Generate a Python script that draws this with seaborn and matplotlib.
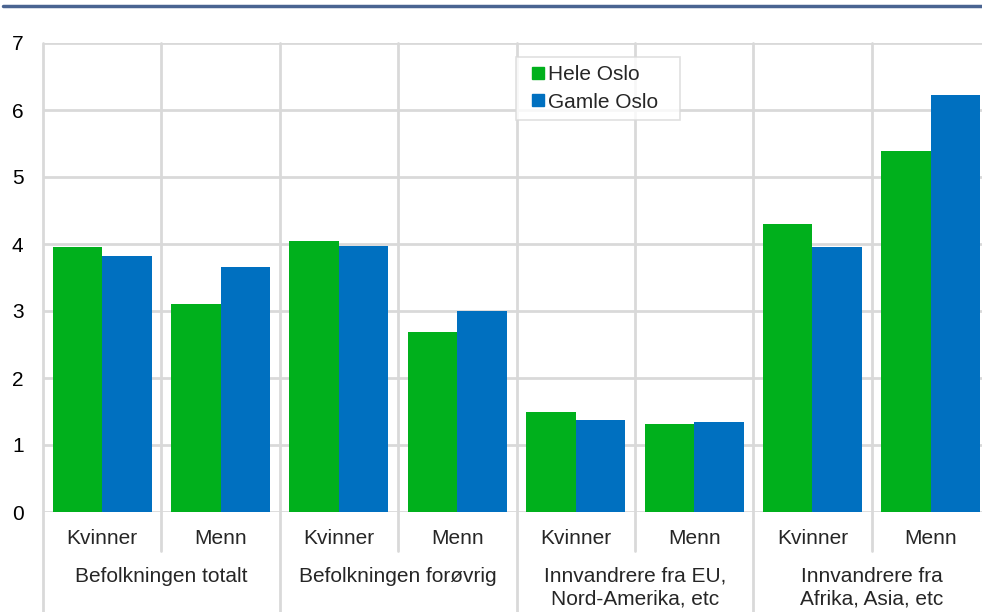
import numpy as np
import pandas as pd
import matplotlib
matplotlib.use("Agg")
import matplotlib.pyplot as plt
from matplotlib.lines import Line2D
import matplotlib.transforms as mtransforms
import seaborn as sns

#------data--------------------
groups = ["Befolkningen totalt", "Befolkningen forøvrig",
          "Innvandrere fra EU,\nNord-Amerika, etc", "Innvandrere fra\nAfrika, Asia, etc"]
sexes = ["Kvinner", "Menn"]
hele_oslo = [3.96, 3.11, 4.04, 2.68, 1.49, 1.32, 4.30, 5.39]
gamle_oslo = [3.82, 3.65, 3.97, 3.00, 1.37, 1.35, 3.95, 6.22]
series = ["Hele Oslo", "Gamle Oslo"]
colors = ["#00b01c", "#0070c0"]

n = len(hele_oslo)
df = pd.DataFrame({
    "idx": list(range(n)) * 2,
    "verdi": hele_oslo + gamle_oslo,
    "serie": [series[0]] * n + [series[1]] * n,
})

sns.set_style("white")
plt.rcParams['font.family'] = ['Liberation Sans', 'DejaVu Sans']

fig = plt.figure(figsize=(9.82, 6.12), dpi=100)
ax = fig.add_axes([43/982, 100/612, 947/982, 469/612])

sns.barplot(data=df, x="idx", y="verdi", hue="serie", palette=colors,
            width=0.836, gap=0, saturation=1, legend=False, ax=ax, zorder=3,
            linewidth=0, edgecolor="none")

ax.set_xlim(-0.5, n - 0.5)
ax.set_ylim(0, 7)
ax.set_yticks(range(8))
ax.set_xticks([])
ax.set_xlabel("")
ax.set_ylabel("")
for s in ax.spines.values():
    s.set_visible(False)
ax.yaxis.grid(True, color="#d9d9d9", lw=2, zorder=0)
ax.set_axisbelow(True)
ax.tick_params(axis="y", length=0, pad=14, labelsize=15, labelcolor="black")

# vertical gridlines, down into label area
gap_px = 469
for i in range(n + 1):
    x = i - 0.5
    if i % 2 == 0:
        ymin = -100 / gap_px
    else:
        ymin = -39 / gap_px
    ax.axvline(x, ymin=ymin, ymax=1, color="#d9d9d9", lw=2, clip_on=False, zorder=1)

trans = mtransforms.blended_transform_factory(ax.transData, ax.transAxes)
for i in range(n):
    ax.text(i, -26 / gap_px, sexes[i % 2], transform=trans, ha="center",
            va="center", fontsize=15)
for g, name in enumerate(groups):
    ax.text(2 * g + 0.5, -55 / gap_px, name, transform=trans, ha="center",
            va="top", fontsize=15, linespacing=1.25)

handles = [Line2D([], [], marker="s", ls="", color=c, markersize=8) for c in colors]
leg = ax.legend(handles, series, loc="upper left",
                bbox_to_anchor=(473/947, 445/469, 164/947, 10/469), mode="expand",
                borderaxespad=0, frameon=True, fancybox=False, fontsize=15,
                handlelength=1.3, handletextpad=-0.15, borderpad=0.4,
                labelspacing=0.4)
leg.get_frame().set_edgecolor("#d9d9d9")
leg.get_frame().set_linewidth(1.2)
leg.set_zorder(5)

fig.add_artist(Line2D([3/982, 1], [606/612, 606/612], color="#4a6491", lw=2.5))

fig.savefig("out.png", dpi=100)
